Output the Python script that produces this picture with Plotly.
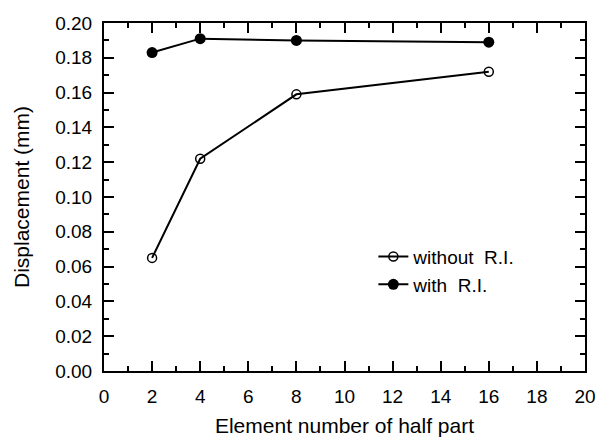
import plotly.graph_objects as go

x_vals = [2, 4, 8, 16]
without_ri = [0.065, 0.122, 0.159, 0.172]
with_ri = [0.183, 0.191, 0.190, 0.189]
x_ticks = list(range(0, 21, 2))
y_ticks = [round(i * 0.02, 2) for i in range(11)]

FONT = "Liberation Sans"

fig = go.Figure()
fig.add_trace(go.Scatter(
    x=x_vals, y=without_ri, mode="lines+markers", name="without\u00a0\u00a0R.I.",
    line=dict(color="black", width=2),
    marker=dict(symbol="circle-open", size=9, color="black", line=dict(width=1.5, color="black")),
))
fig.add_trace(go.Scatter(
    x=x_vals, y=with_ri, mode="lines+markers", name="with\u00a0\u00a0R.I.",
    line=dict(color="black", width=2),
    marker=dict(symbol="circle", size=11, color="black"),
))

axis_common = dict(
    showline=True, linecolor="black", linewidth=2, mirror="allticks",
    ticks="inside", ticklen=10, tickwidth=2, tickcolor="black",
    showgrid=False, zeroline=False, automargin=False,
    tickfont=dict(family=FONT, size=19, color="black"),
)

fig.update_xaxes(
    range=[0, 20], tickvals=x_ticks, ticktext=[str(v) for v in x_ticks],
    minor=dict(dtick=1, ticks="inside", ticklen=5, tickwidth=1.5, tickcolor="black", showgrid=False),
    title=dict(text="Element number of half part", font=dict(family=FONT, size=21, color="black"), standoff=13),
    ticklabelstandoff=7,
    **axis_common,
)
fig.update_yaxes(
    range=[0, 0.20], tickvals=y_ticks, ticktext=[f"{v:.2f}" for v in y_ticks],
    minor=dict(dtick=0.01, ticks="inside", ticklen=5, tickwidth=1.5, tickcolor="black", showgrid=False),
    title=dict(text="Displacement (mm)", font=dict(family=FONT, size=21, color="black"), standoff=20),
    ticklabelstandoff=6,
    **axis_common,
)

fig.update_layout(
    width=599, height=440,
    margin=dict(l=104, r=14, t=23, b=69),
    paper_bgcolor="white", plot_bgcolor="white",
    legend=dict(x=0.56, y=0.383, xanchor="left", yanchor="top",
                bgcolor="rgba(0,0,0,0)", font=dict(family=FONT, size=19, color="black"),
                tracegroupgap=2, itemwidth=30),
    showlegend=True,
)

fig.write_html("out.html")
